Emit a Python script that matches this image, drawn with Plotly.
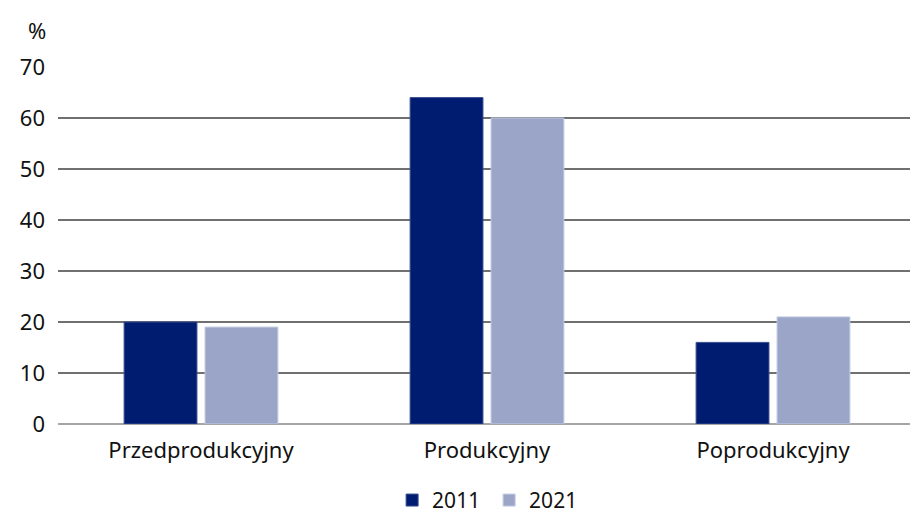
import plotly.graph_objects as go

categories = ["Przedprodukcyjny", "Produkcyjny", "Poprodukcyjny"]
values_2011 = [20, 64, 16]
values_2021 = [19, 60, 21]
series_names = ["2011", "2021"]
y_ticks = [0, 10, 20, 30, 40, 50, 60, 70]

FONT = "Noto Sans, Open Sans, sans-serif"

fig = go.Figure()
fig.add_trace(go.Bar(
    x=categories, y=values_2011, name=series_names[0],
    marker=dict(color="#001C71", line=dict(color="#3a4f8f", width=1)),
))
fig.add_trace(go.Bar(
    x=categories, y=values_2021, name=series_names[1],
    marker=dict(color="#9AA5C8", line=dict(color="#c3cae0", width=1)),
))

fig.update_layout(
    width=910, height=515,
    margin=dict(l=58, r=0, t=67, b=91, autoexpand=False),
    paper_bgcolor="white", plot_bgcolor="white",
    barmode="group", bargap=0.434, bargroupgap=0.1,
    font=dict(family=FONT, size=22, color="#111111"),
    showlegend=True,
    legend=dict(orientation="h", x=0.506, xanchor="center", y=-0.214, yanchor="middle",
                font=dict(size=21), itemwidth=30, entrywidth=52, traceorder="normal"),
    xaxis=dict(range=[-0.5, 2.479], showgrid=False, showline=False, zeroline=False,
               automargin=False, ticks="", ticklabelstandoff=11, tickfont=dict(size=22)),
    yaxis=dict(range=[0, 70], tickvals=y_ticks, showgrid=True, gridcolor="#707070",
               gridwidth=1.5, zeroline=True, zerolinecolor="#a6a6a6", zerolinewidth=2,
               automargin=False, showline=False, ticks="", ticklabelstandoff=12,
               tickfont=dict(size=22)),
    annotations=[dict(text="%", x=(37 - 58) / 852, y=1.104, xref="paper", yref="paper",
                      xanchor="center", yanchor="middle",
                      showarrow=False, font=dict(size=22))],
)

fig.write_html("out.html", config={"displayModeBar": False},
               post_script="document.body.style.margin='0';document.body.style.overflow='hidden';")
